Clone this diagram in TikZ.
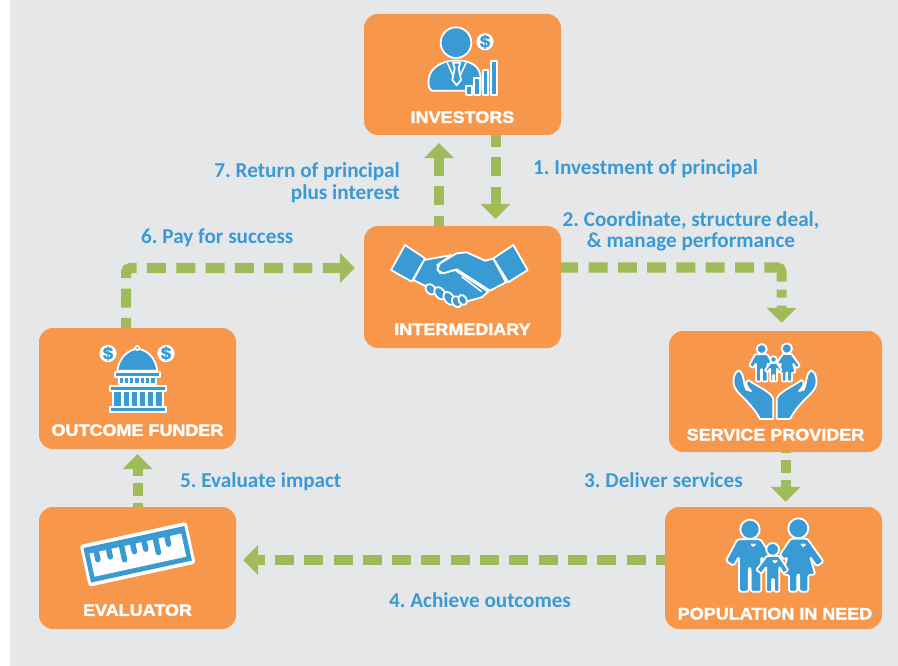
\documentclass[tikz,border=0pt]{standalone}
\usepackage{fontspec}
\usetikzlibrary{arrows.meta,positioning}
\setmainfont{Carlito}
\newfontfamily\boxfont[FakeBold=2,FakeStretch=1.09]{Liberation Sans Bold}
\definecolor{pfsgrey}{HTML}{E6E7E8}
\definecolor{pfsorange}{HTML}{F7974B}
\definecolor{pfsblue}{HTML}{3A9AD4}
\definecolor{pfsgreen}{HTML}{A0BC5A}
\tikzset{
  actor/.style={rectangle, rounded corners=14pt, fill=pfsorange, inner sep=0pt},
  actorname/.style={inner sep=0pt, text=white, font=\boxfont\fontsize{16.5}{18}\selectfont},
  steplabel/.style={inner sep=0pt, text=pfsblue, font=\frenchspacing\bfseries\fontsize{21.2}{21.5}\selectfont},
  flow/.style={draw=pfsgreen, line width=10pt, rounded corners=4pt, dash pattern=on 19pt off 10.3pt, -{Triangle[length=15pt,width=29pt]}},
  icon/.style={draw=white, line width=1.8pt, fill=pfsblue, line join=round},
  dollar/.style={circle, fill=white, text=pfsblue, inner sep=0pt, minimum size=17pt, font=\boxfont\fontsize{17}{17}\selectfont},
}
% one family, drawn with origin #1,#2 and scale #3
\newcommand{\familyicon}[3]{
  \begin{scope}[shift={(#1,#2)},scale=#3]
    \path[icon, rounded corners={#3*5pt}] (232,118) -- (302,118) -- (338,175) -- (318,190) -- (304,170) -- (304,275) -- (272,275) -- (272,205) -- (266,205) -- (266,275) -- (237,275) -- (237,170) -- (220,198) -- (198,182) -- cycle;
    \path[icon] (270,88) circle (29);
    \path[icon, rounded corners={#3*5pt}] (392,116) -- (442,116) -- (491,185) -- (470,199) -- (450,170) -- (466,224) -- (445,224) -- (445,275) -- (418,275) -- (418,224) -- (412,224) -- (412,275) -- (387,275) -- (387,224) -- (368,224) -- (382,170) -- (375,180) -- (359,165) -- cycle;
    \path[icon] (415,85) circle (30);
    \path[icon, rounded corners={#3*3pt}] (320,168) -- (357,168) -- (385,210) -- (370,221) -- (358,200) -- (358,275) -- (342,275) -- (342,237) -- (336,237) -- (336,275) -- (319,275) -- (319,200) -- (305,221) -- (289,210) -- cycle;
    \path[icon] (338,148) circle (19);
  \end{scope}
}
% one open hand
\newcommand{\handicon}[1]{
  \begin{scope}[shift={(775,325)},scale=0.3333,xscale=#1]
    \path[icon] (-107,136) .. controls (-125,140) and (-130,175) .. (-118,192) .. controls (-107,212) and (-72,232) .. (-45,282) -- (-5,282) -- (-5,222) .. controls (-12,200) and (-48,188) .. (-80,165) .. controls (-90,170) and (-88,184) .. (-72,198) -- (-86,194) .. controls (-97,175) and (-90,150) .. (-107,136) -- cycle;
  \end{scope}
}
% small heart on a figure
\newcommand{\hearticon}[2]{
  \fill[white] (#1,#2) .. controls (#1-2.5,#2-1.5) and (#1-3.5,#2-3) .. (#1-2,#2-3.5) .. controls (#1-1,#2-3.7) and (#1,#2-3) .. (#1,#2-2.5) .. controls (#1,#2-3) and (#1+1,#2-3.7) .. (#1+2,#2-3.5) .. controls (#1+3.5,#2-3) and (#1+2.5,#2-1.5) .. (#1,#2);
}
\begin{document}
\begin{tikzpicture}[x=1pt,y=-1pt]
\useasboundingbox (0,0) rectangle (898,666);
\fill[white] (0,0) rectangle (898,666);
\fill[pfsgrey] (10,0) rectangle (898,666);

% boxes
\node (investors) [actor, minimum width=197pt, minimum height=121pt] at (462.5,74.5) {};
\node (intermediary) [actor, minimum width=197pt, minimum height=122pt, below of=investors, node distance=212.5pt] {};
\node (funder) [actor, minimum width=197pt, minimum height=121pt] at (137.5,388.5) {};
\node (evaluator) [actor, minimum width=197pt, minimum height=122pt, below of=funder, node distance=179.5pt] {};
\node (provider) [actor, minimum width=213pt, minimum height=121pt] at (775.5,391.5) {};
\node (population) [actor, minimum width=217pt, minimum height=122pt] at (773.5,568) {};

% box names
\node (investorsname) [actorname, above=12pt of investors.south] {INVESTORS};
\node (intermediaryname) [actorname, above=13pt of intermediary.south] {INTERMEDIARY};
\node (fundername) [actorname, above=13pt of funder.south] {OUTCOME FUNDER};
\node (evaluatorname) [actorname, above=13pt of evaluator.south] {EVALUATOR};
\node (providername) [actorname, above=11.5pt of provider.south] {SERVICE PROVIDER};
\node (populationname) [actorname, above=9.5pt of population.south, xshift=1.5pt] {POPULATION IN NEED};

% connectors
\draw[flow, dash phase=7pt] ([xshift=33pt]investors.south) -- ([xshift=33pt,yshift=7pt]intermediary.north);
\draw[flow, dash phase=9pt] ([xshift=-23.5pt]intermediary.north) -- ([xshift=-23.5pt,yshift=-8pt]investors.south);
\draw[flow, dash pattern=on 17pt off 10.3pt on 19pt off 10.3pt on 19pt off 10.3pt on 19pt off 10.3pt on 19pt off 10.3pt on 19pt off 10.3pt on 19pt off 10.3pt on 29.5pt off 8pt on 8pt off 8pt on 30pt off 10pt] ([yshift=19.5pt]intermediary.east) -| ([xshift=6pt,yshift=8pt]provider.north);
\draw[flow, dash phase=9pt] ([xshift=-11.5pt]funder.north) |- ([yshift=19pt,xshift=-9pt]intermediary.west);
\draw[flow, dash pattern=on 1pt off 7pt on 13pt off 7pt on 30pt off 7pt] ([xshift=10.2pt]provider.south) -- ([xshift=12.2pt,yshift=5pt]population.north);
\draw[flow, dash phase=10pt] ([yshift=8pt]population.west) -- ([yshift=8pt,xshift=7pt]evaluator.east);
\draw[flow, dash pattern=on 4pt off 7pt on 13pt off 7pt on 30pt off 7pt] (evaluator.north) -- ([yshift=-5pt]funder.south);

% step labels
\node (stepone) [steplabel, anchor=west] at (533,169) {1. Investment of principal};
\node (steptwo) [steplabel, align=center] at (691,231.5) {2. Coordinate, structure deal,\\\& manage performance};
\node (stepthree) [steplabel, anchor=west] at (584,480) {3. Deliver services};
\node (stepfour) [steplabel, anchor=west] at (389,600) {4. Achieve outcomes};
\node (stepfive) [steplabel, anchor=west] at (180,482) {5. Evaluate impact};
\node (stepsix) [steplabel, anchor=west] at (141,238) {6. Pay for success};
\node (stepseven) [steplabel, align=right, anchor=east] at (400,182.5) {7. Return of principal\\plus interest};

% investors icon
\begin{scope}[shift={(360,0)},scale=0.3333]
  \path[icon] (207,262) .. controls (200,225) and (215,195) .. (270,182) -- (310,182) .. controls (345,190) and (362,205) .. (362,240) -- (362,272) -- (215,272) -- cycle;
  \draw[draw=white, line width=1.5pt] (262,188) -- (285,240) (318,188) -- (295,240);
  \path[icon] (279,188) -- (301,188) -- (296,205) -- (303,240) -- (290,256) -- (277,240) -- (284,205) -- cycle;
  \path[icon] (288,128) circle (46);
  \path[icon] (318,258) rectangle (335,285);
  \path[icon] (343,235) rectangle (360,285);
  \path[icon] (368,210) rectangle (385,285);
  \path[icon] (392,182) rectangle (410,285);
\end{scope}
\node (investorsdollar) [dollar] at (485,41.7) {\$};

% handshake icon
\begin{scope}[shift={(360,220)},scale=0.3333]
  \path[icon] (160,180) -- (192,120) -- (275,105) -- (232,135) -- (240,160) -- (285,150) -- (385,215) -- (365,232) -- (300,250) -- (200,200) -- cycle;
  \path[icon, rotate around={-45:(212,208)}] (212,208) ellipse (18 and 13);
  \path[icon, rotate around={-50:(240,220)}] (240,220) ellipse (21 and 14);
  \path[icon, rotate around={-55:(267,235)}] (267,235) ellipse (21 and 14);
  \path[icon, rotate around={-60:(290,245)}] (290,245) ellipse (18 and 13);
  \path[icon, rotate around={-60:(308,240)}] (308,240) ellipse (16 and 12);
  \path[icon] (400,116) -- (375,122) -- (320,97) -- (290,100) -- (240,130) -- (232,150) -- (250,160) -- (290,148) -- (390,212) -- (438,187) -- cycle;
  \draw[draw=white, line width=1.5pt] (305,170) -- (365,215);
  \path[icon] (135,75) -- (195,115) -- (155,185) -- (93,150) -- cycle;
  \path[icon] (460,75) -- (503,150) -- (445,187) -- (400,115) -- cycle;
\end{scope}

% capitol icon
\begin{scope}[shift={(30,320)},scale=0.3333]
  \path[icon] (262,152) .. controls (268,110) and (295,90) .. (322,86) .. controls (350,90) and (376,110) .. (382,152) -- cycle;
  \path[icon] (322,84) circle (6);
  \path[icon] (255,155) rectangle (390,170);
  \path[icon] (268,170) rectangle (378,192);
  \path[icon] (240,197) rectangle (408,213);
  \path[icon] (248,213) rectangle (400,260);
  \draw[draw=white, line width=2pt] (283,170) -- (283,192) (298,170) -- (298,192) (313,170) -- (313,192) (329,170) -- (329,192) (345,170) -- (345,192) (361,170) -- (361,192);
  \draw[draw=white, line width=3pt] (277,213) -- (277,260) (301,213) -- (301,260) (325,213) -- (325,260) (349,213) -- (349,260) (373,213) -- (373,260);
  \path[icon] (240,260) rectangle (408,275);
\end{scope}
\node (funderdollarleft) [dollar] at (108,353.5) {\$};
\node (funderdollarright) [dollar] at (166,353.5) {\$};

% ruler icon
\begin{scope}[shift={(137.7,554.3)},rotate=12.3,scale=0.3333]
  \fill[white, rounded corners=3pt] (-164,-64) rectangle (164,64);
  \fill[pfsblue] (-155,-53) rectangle (155,53);
  \fill[white] (-141,-33) rectangle (141,38);
  \draw[pfsblue, line width=5.5pt, line cap=round] (-120,-33) -- (-120,-10) (-82,-33) -- (-82,-10) (-42,-33) -- (-42,8) (-8,-33) -- (-8,-10) (27,-33) -- (27,-10) (62,-33) -- (62,8) (97,-33) -- (97,-10);
\end{scope}

% hands and families
\handicon{1}
\handicon{-1}
\familyicon{714.9}{333.8}{0.1733}
\familyicon{660}{500}{0.3333}
\hearticon{753.3}{547}
\hearticon{775}{563.5}
\hearticon{803.3}{547}
\end{tikzpicture}
\end{document}
